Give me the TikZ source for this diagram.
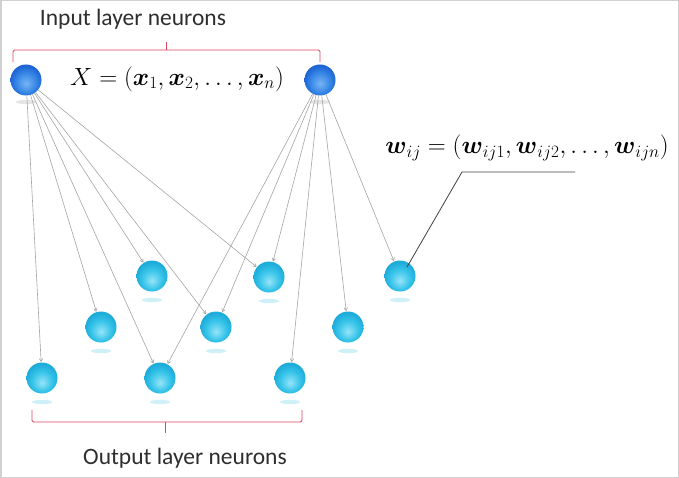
\documentclass[tikz,border=0pt]{standalone}
\usepackage{fontspec}
\setmainfont{Carlito}
\usepackage{amsmath}
\usetikzlibrary{arrows.meta,calc}
\definecolor{outball}{RGB}{40,185,225}
\definecolor{brk}{RGB}{225,70,95}
\definecolor{edgegray}{RGB}{165,165,165}
\definecolor{cyA}{RGB}{150,228,248}
\definecolor{cyB}{RGB}{55,196,233}
\definecolor{cyC}{RGB}{30,172,218}
\definecolor{blA}{RGB}{120,180,245}
\definecolor{blB}{RGB}{55,135,230}
\definecolor{blC}{RGB}{30,100,210}
\pgfdeclareradialshading{cyanball}{\pgfpoint{0bp}{-8bp}}{%
  color(0bp)=(cyA); color(16bp)=(cyB); color(26bp)=(cyC); color(50bp)=(cyC)}
\pgfdeclareradialshading{blueball}{\pgfpoint{0bp}{-6bp}}{%
  color(0bp)=(blA); color(16bp)=(blB); color(26bp)=(blC); color(50bp)=(blC)}
\tikzset{
  outn/.style={circle,minimum size=31pt,inner sep=0pt,shading=cyanball},
  inn/.style={circle,minimum size=31pt,inner sep=0pt,shading=blueball},
  link/.style={draw=edgegray,line width=0.6pt,-{To[length=3.5pt,width=4pt]},shorten >=0.5pt},
  refl/.style={fill=outball!22,draw=none},
  brace/.style={draw=brk,line width=0.9pt,rounded corners=1.5pt},
  lbl/.style={font=\fontsize{23.5}{26}\selectfont,text=black!82},
  fx/.style={font=\fontsize{24}{28}\selectfont},
  fw/.style={font=\fontsize{25}{30}\selectfont},
  callout/.style={draw=black!75,line width=0.8pt}
}
\begin{document}
\begin{tikzpicture}[x=1pt,y=-1pt]
\useasboundingbox (0,0) rectangle (679,478);
\fill[white] (0,0) rectangle (679,478);
\draw[black!18,line width=3pt] (0,0) rectangle (679,478);
% reflections
\foreach \pp in {(152,300),(269,301),(400,300),(101,351),(216,351),(348,351),(42,402),(160,402),(290,402)}
  {\fill[refl] \pp ellipse (10pt and 2.2pt);}
\fill[black!10] (26,102) ellipse (10pt and 2.2pt);
\fill[black!10] (320,102) ellipse (10pt and 2.2pt);
% neurons
\node[inn] (I1) at (26,80) {};
\node[inn] (I2) at (320,80) {};
\node[outn] (A) at (152,276) {};
\node[outn] (B) at (269,277) {};
\node[outn] (C) at (400,276) {};
\node[outn] (D) at (101,327) {};
\node[outn] (E) at (216,327) {};
\node[outn] (F) at (348,327) {};
\node[outn] (G) at (42,378) {};
\node[outn] (H) at (160,378) {};
\node[outn] (J) at (290,378) {};
% connections
\foreach \tg in {G,D,H,A,E,B} {\draw[link] (I1) -- (\tg);}
\foreach \tg in {H,E,B,J,F,C} {\draw[link] (I2) -- (\tg);}
% formulas
\node[fx] (X) at (177,79) {$X=(\boldsymbol{x}_{1},\boldsymbol{x}_{2},\ldots,\boldsymbol{x}_{n})$};
\node[fw] (W) at (527,148) {$\boldsymbol{w}_{ij}=(\boldsymbol{w}_{ij1},\boldsymbol{w}_{ij2},\ldots,\boldsymbol{w}_{ijn})$};
% callout
\coordinate (k1) at (462,172);
\coordinate (k2) at (575,172);
\draw[callout] ([xshift=7pt,yshift=9pt]C.center) -- (k1) -- (k2);
% brackets
\draw[brace] (13,62) -- (13,50) -- (320,50) -- (320,62);
\draw[draw=brk,line width=0.9pt] (166,50) -- (166,42);
\draw[brace] (32,410) -- (32,422) -- (302,422) -- (302,410);
\draw[draw=brk,line width=0.9pt] (165,422) -- (165,433);
% labels
\node[lbl] (inlab) at (133,19) {Input layer neurons};
\node[lbl] (outlab) at (185,458) {Output layer neurons};
\end{tikzpicture}
\end{document}
